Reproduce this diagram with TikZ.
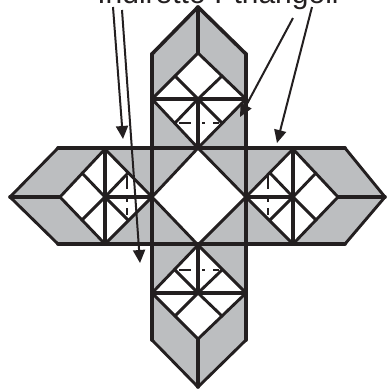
\documentclass[tikz,border=0pt]{standalone}
\usepackage{fontspec}
\setmainfont{Liberation Sans}
\usetikzlibrary{arrows.meta}
\definecolor{fillg}{HTML}{BCBEC0}
\definecolor{ink}{HTML}{231F20}
\tikzset{x=1pt,y=-1pt,
 lw/.style={draw=ink,line width=3.6pt,line cap=round,line join=round},
 thin/.style={draw=ink,line width=2.9pt,line cap=round,line join=round},
 dsh/.style={draw=ink,line width=1.5pt},
 arr/.style={draw=ink,line width=2pt,-{Triangle[length=13pt,width=12pt]}},
 lab/.style={font=\fontsize{30}{30}\selectfont,text=ink,inner sep=0pt,anchor=base}}
\begin{document}
\begin{tikzpicture}
\useasboundingbox (0,0) rectangle (387,389);
\clip (0,0) rectangle (387,389);
% grey fill
\fill[fillg] (198,7)--(246,54)--(246,148)--(293,148)--(345,148)--(385,197)--(345,244)--(246,244)--(246,340)--(198,387)--(152,340)--(152,244)--(58,244)--(10,197)--(58,148)--(152,148)--(152,54)--cycle;
% white diamonds
\fill[white] (198,53)--(246,99)--(198,148)--(152,99)--cycle;
\fill[white] (198,148)--(246,197)--(198,245)--(152,197)--cycle;
\fill[white] (198,245)--(246,293)--(198,339)--(152,293)--cycle;
\fill[white] (60,197)--(105,149)--(152,197)--(105,244)--cycle;
\fill[white] (338,197)--(293,149)--(246,197)--(293,244)--cycle;
% outlines
\draw[lw] (152,99)--(152,54)--(198,7)--(246,54)--(246,99);
\draw[lw] (198,7)--(198,53);
\draw[lw] (152,54)--(152,293) (246,54)--(246,293);
\draw[lw] (58,148)--(345,148) (58,244)--(345,244);
\draw[thin] (58,148)--(10,197)--(58,244) (345,148)--(385,197)--(345,244);
\draw[lw] (10,197)--(60,197) (338,197)--(385,197);
\draw[lw] (152,293)--(152,340) (246,293)--(246,340);
\draw[thin] (152,340)--(198,387)--(246,340);
\draw[lw] (198,339)--(198,387);
% top module
\draw[thin] (152,99)--(198,53)--(246,99)--(198,148)--cycle;
\draw[lw] (152,99)--(246,99) (198,99)--(198,148);
\draw[thin] (175,76)--(198,99)--(222,76);
\draw[thin] (175,123)--(198,99)--(222,123);
% bottom module
\draw[thin] (152,293)--(198,339)--(246,293)--(198,245)--cycle;
\draw[lw] (152,293)--(246,293) (198,245)--(198,293);
\draw[thin] (175,316)--(198,293)--(222,316);
\draw[thin] (175,270)--(198,293)--(222,270);
% left module
\draw[thin] (105,149)--(60,197)--(105,244)--(152,197)--cycle;
\draw[lw] (105,149)--(105,244) (105,197)--(152,197);
\draw[thin] (82,173)--(105,197)--(82,220);
\draw[thin] (128,173)--(105,197)--(128,220);
% right module
\draw[thin] (293,149)--(338,197)--(293,244)--(246,197)--cycle;
\draw[lw] (293,149)--(293,244) (246,197)--(293,197);
\draw[thin] (316,173)--(293,197)--(316,220);
\draw[thin] (270,173)--(293,197)--(270,220);
% centre
\draw[thin] (198,148)--(246,197)--(198,245)--(152,197)--cycle;
% dashes
\draw[dsh] (179,123)--(191,123) (202,123)--(205,123) (213,123)--(219,123);
\draw[dsh] (179,270)--(191,270) (202,270)--(205,270) (213,270)--(219,270);
\draw[dsh] (127,176)--(127,189) (127,199)--(127,202) (127,208)--(127,215);
\draw[dsh] (268,176)--(268,189) (268,199)--(268,202) (268,208)--(268,215);
% arrows
\coordinate (a1s) at (113,7); \coordinate (a1e) at (123,139);
\coordinate (a2s) at (122,10); \coordinate (a2e) at (140,263);
\coordinate (a3s) at (293,18); \coordinate (a3e) at (240,117);
\coordinate (a4s) at (312,7); \coordinate (a4e) at (277,143);
\draw[arr] (a1s)--(a1e);
\draw[arr] (a2s)--(a2e);
\draw[arr] (a3s)--(a3e);
\draw[arr] (a4s)--(a4e);
\node[lab] (label) at (218,3) {Indiretto : triangoli};
\end{tikzpicture}
\end{document}
